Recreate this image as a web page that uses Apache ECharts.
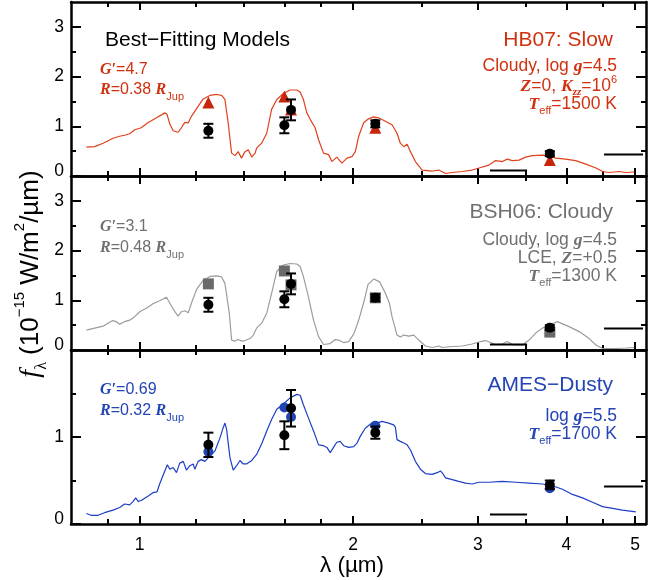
<!DOCTYPE html>
<html>
<head>
<meta charset="utf-8">
<title>Best-Fitting Models</title>
<script src="https://cdn.jsdelivr.net/npm/echarts@6/dist/echarts.min.js"></script>
<style>
  html, body { margin: 0; padding: 0; background: #fff; }
  #chart { width: 662px; height: 580px; }
</style>
</head>
<body>
<div id="chart"></div>
<script>
// ---- data (wavelength in micron, flux in 1e-15 W/m2/um) ----
const hbWave = [
  0.841,0.864,0.888,0.917,0.937,0.952,0.968,0.984,1.005,1.027,
  1.056,1.085,1.093,1.103,1.115,1.133,1.145,1.158,1.171,1.183,
  1.209,1.229,1.256,1.284,1.305,1.319,1.333,1.348,1.363,1.377,
  1.392,1.408,1.423,1.439,1.455,1.462,1.486,1.511,1.535,1.561,
  1.595,1.630,1.666,1.684,1.702,1.721,1.740,1.768,1.788,1.817,
  1.847,1.867,1.897,1.929,1.961,1.993,2.015,2.037,2.070,2.103,
  2.138,2.173,2.221,2.270,2.307,2.332,2.358,2.384,2.410,2.449,
  2.503,2.586,2.642,2.701,2.760,2.851,2.945,3.010,3.110,3.178,
  3.248,3.301,3.356,3.429,3.504,3.581,3.700,3.781,3.864,3.991,
  4.123,4.260,4.402,4.498,4.597,4.750,4.853,4.986
];
const hbFlux = [
  0.58,0.59,0.66,0.76,0.80,0.82,0.85,0.93,0.97,1.07,
  1.17,1.27,1.24,1.04,0.91,0.88,0.97,1.08,1.07,1.20,
  1.40,1.55,1.62,1.64,1.62,1.54,1.07,0.46,0.41,0.49,
  0.36,0.49,0.53,0.38,0.46,0.56,0.66,0.86,1.34,1.54,
  1.66,1.73,1.73,1.69,1.54,1.27,1.14,0.97,0.73,0.46,
  0.43,0.29,0.38,0.26,0.36,0.39,0.49,0.80,1.07,1.15,
  1.19,1.17,1.10,1.03,0.86,0.66,0.59,0.64,0.49,0.29,
  0.12,0.10,0.12,0.05,0.07,0.09,0.12,0.16,0.22,0.31,
  0.29,0.34,0.31,0.32,0.38,0.41,0.42,0.41,0.36,0.34,
  0.31,0.24,0.16,0.09,0.07,0.09,0.07,0.08
];

const bshWave = [
  0.841,0.864,0.888,0.902,0.915,0.927,0.937,0.952,0.968,0.984,
  1.000,1.022,1.044,1.067,1.091,1.103,1.121,1.133,1.145,1.158,
  1.171,1.183,1.203,1.229,1.256,1.284,1.305,1.319,1.338,1.348,
  1.363,1.377,1.392,1.408,1.431,1.447,1.462,1.486,1.511,1.535,
  1.561,1.595,1.630,1.666,1.684,1.702,1.730,1.759,1.788,1.817,
  1.857,1.887,1.908,1.940,1.971,2.004,2.037,2.070,2.100,2.140,
  2.180,2.220,2.250,2.270,2.307,2.332,2.358,2.397,2.436,2.476,
  2.530,2.586,2.642,2.671,2.760,2.851,2.945,3.027,3.076,3.126,
  3.178,3.248,3.301,3.356,3.467,3.543,3.620,3.700,3.781,3.843,
  3.885,3.927,4.035,4.169,4.307,4.402,4.498,4.697,4.853,4.986
];
const bshFlux = [
  0.40,0.44,0.48,0.54,0.59,0.57,0.52,0.57,0.60,0.67,
  0.77,0.84,0.93,0.99,1.06,0.94,0.77,0.68,0.77,0.79,
  0.75,0.94,1.22,1.40,1.48,1.49,1.47,1.34,0.74,0.20,
  0.18,0.21,0.18,0.19,0.23,0.30,0.44,0.54,0.74,1.14,
  1.58,1.71,1.74,1.73,1.68,1.48,1.07,0.60,0.27,0.11,
  0.13,0.21,0.20,0.15,0.17,0.32,0.60,0.95,1.32,1.43,
  1.37,1.15,0.95,0.67,0.30,0.26,0.30,0.28,0.30,0.20,
  0.08,0.05,0.08,0.05,0.07,0.08,0.12,0.17,0.19,0.15,
  0.11,0.12,0.17,0.11,0.10,0.20,0.34,0.44,0.50,0.54,
  0.57,0.54,0.47,0.37,0.23,0.10,0.03,0.03,0.04,0.05
];

const amesWave = [
  0.841,0.854,0.873,0.892,0.917,0.937,0.952,0.968,0.979,0.987,
  0.995,1.005,1.027,1.044,1.058,1.067,1.085,1.094,1.103,1.115,
  1.127,1.139,1.152,1.164,1.177,1.190,1.196,1.209,1.222,1.236,
  1.249,1.263,1.277,1.298,1.312,1.319,1.326,1.341,1.355,1.370,
  1.385,1.400,1.415,1.439,1.462,1.486,1.511,1.535,1.561,1.595,
  1.630,1.666,1.684,1.702,1.730,1.759,1.788,1.817,1.837,1.857,
  1.877,1.897,1.918,1.940,1.971,2.004,2.026,2.048,2.081,2.126,
  2.161,2.197,2.245,2.282,2.295,2.307,2.332,2.358,2.384,2.410,
  2.449,2.489,2.530,2.586,2.629,2.657,2.677,2.701,2.760,2.819,
  2.882,2.945,3.010,3.110,3.248,3.392,3.543,3.700,3.822,3.948,
  4.079,4.214,4.354,4.498,4.647,4.800,5.012
];
const amesFlux = [
  0.12,0.10,0.10,0.13,0.16,0.19,0.23,0.22,0.26,0.30,
  0.26,0.27,0.32,0.36,0.37,0.46,0.61,0.68,0.63,0.65,
  0.59,0.70,0.72,0.62,0.67,0.69,0.63,0.72,0.74,0.72,
  0.76,0.80,0.84,0.99,1.11,1.16,1.09,0.76,0.62,0.67,
  0.73,0.69,0.69,0.73,0.80,0.92,1.07,1.20,1.32,1.38,
  1.45,1.49,1.48,1.37,1.22,1.07,0.91,0.90,0.88,0.82,
  0.88,0.94,0.95,0.90,0.88,0.89,0.93,1.01,1.10,1.16,
  1.16,1.18,1.16,1.14,1.11,0.97,0.95,0.93,0.91,0.85,
  0.72,0.63,0.58,0.57,0.59,0.61,0.58,0.53,0.51,0.49,
  0.47,0.46,0.48,0.48,0.49,0.48,0.47,0.46,0.44,0.40,
  0.34,0.30,0.25,0.20,0.18,0.16,0.14
];

// observed photometry
const photWave = [1.25, 1.60, 1.635, 2.15, 3.79];
const photFlux = [0.91, 1.02, 1.33, 1.05, 0.45];
const photErr  = [0.14, 0.16, 0.21, 0.07, 0.05];
// synthetic photometry of each model
const hbPhot   = [1.48, 1.60, 1.34, 0.97, 0.32];
const bshPhot  = [1.33, 1.59, 1.31, 1.05, 0.36];
const amesPhot = [0.83, 1.34, 1.23, 1.13, 0.41];
// upper limits (band edges, flux)
const limStart = [3.12, 4.52];
const limEnd   = [3.52, 5.13];
const limFlux  = [0.11, 0.43];

// ticks
const xMajor = [1, 2, 3, 4, 5];
const xMinor = [0.9, 1.2, 1.4, 1.6, 1.8, 2.5, 3.5, 4.5];
const yMajorTop = [0, 1, 2, 3];
const yMinorTop = [0.5, 1.5, 2.5];
const yMajorBot = [0, 1];
const yMinorBot = [0.5, 1.5];

// ---- chart ----
const SANS = '"Liberation Sans", Arial, Helvetica, sans-serif';
const SERIF = '"Liberation Serif", "Times New Roman", serif';
const lg = Math.log10;
const xMin = lg(0.8), xMax = lg(5.18);

const panels = [
  { top: 2, yMax: 3.5, major: yMajorTop, minor: yMinorTop, wave: hbWave, flux: hbFlux,
    phot: hbPhot, line: '#e0401c', mark: '#c8260a', symbol: 'triangle', size: 12 },
  { top: 176, yMax: 3.5, major: yMajorTop, minor: yMinorTop, wave: bshWave, flux: bshFlux,
    phot: bshPhot, line: '#9c9c9c', mark: '#6a6a6a', symbol: 'rect', size: 11 },
  { top: 350, yMax: 2.0, major: yMajorBot, minor: yMinorBot, wave: amesWave, flux: amesFlux,
    phot: amesPhot, line: '#1d3fc4', mark: '#1e45b0', symbol: 'circle', size: 10 }
];

const black = '#000';
const frame = { onZero: false, lineStyle: { color: black, width: 2.5 } };
const noLine = { show: false, onZero: false };
const tickStyle = { color: black, width: 2 };

const xAxis = [], yAxis = [], grid = [], series = [];

panels.forEach((p, g) => {
  grid.push({ left: 71, right: 16, top: p.top, height: 174 });

  const xb = { gridIndex: g, type: 'value', min: xMin, max: xMax, splitLine: { show: false } };
  const lastPanel = g === panels.length - 1;
  ['bottom', 'top'].forEach(pos => {
    xAxis.push(Object.assign({}, xb, {
      position: pos, axisLine: frame,
      axisTick: { inside: true, length: 8, customValues: xMajor.map(lg), lineStyle: tickStyle },
      axisLabel: {
        show: pos === 'bottom' && lastPanel, customValues: xMajor.map(lg), margin: 12,
        color: black, fontSize: 17.5, fontFamily: SANS,
        formatter: v => String(Math.round(Math.pow(10, v)))
      }
    }));
    xAxis.push(Object.assign({}, xb, {
      position: pos, axisLine: noLine,
      axisTick: { inside: true, length: 5, customValues: xMinor.map(lg), lineStyle: tickStyle },
      axisLabel: { show: false }
    }));
  });

  const yb = { gridIndex: g, type: 'value', min: 0, max: p.yMax, splitLine: { show: false } };
  ['left', 'right'].forEach(pos => {
    yAxis.push(Object.assign({}, yb, {
      position: pos, axisLine: frame,
      axisTick: { inside: true, length: 10, customValues: p.major, lineStyle: tickStyle },
      axisLabel: {
        show: pos === 'left', customValues: p.major, margin: 7,
        color: black, fontSize: 17.5, fontFamily: SANS,
        formatter: v => (v === 0 ? '{z|0}' : String(v)),
        rich: { z: { fontSize: 17.5, fontFamily: SANS, color: black, padding: [0, 0, 10, 0] } }
      }
    }));
    yAxis.push(Object.assign({}, yb, {
      position: pos, axisLine: noLine,
      axisTick: { inside: true, length: 5, customValues: p.minor, lineStyle: tickStyle },
      axisLabel: { show: false }
    }));
  });

  const xi = g * 4, yi = g * 4;

  series.push({
    type: 'line', xAxisIndex: xi, yAxisIndex: yi, z: 2,
    data: p.wave.map((w, i) => [lg(w), p.flux[i]]),
    showSymbol: false, symbol: 'none', silent: true,
    lineStyle: { color: p.line, width: 1.2 }
  });

  series.push({
    type: 'custom', xAxisIndex: xi, yAxisIndex: yi, z: 3,
    data: limFlux.map((f, i) => [lg(limStart[i]), lg(limEnd[i]), f]),
    encode: { x: [0, 1], y: 2 },
    renderItem: (params, api) => {
      const a = api.coord([api.value(0), api.value(2)]);
      const b = api.coord([api.value(1), api.value(2)]);
      return { type: 'line', shape: { x1: a[0], y1: a[1], x2: b[0], y2: b[1] },
               style: { stroke: black, lineWidth: 2 } };
    }
  });

  series.push({
    type: 'scatter', xAxisIndex: xi, yAxisIndex: yi, z: 4,
    data: photWave.map((w, i) => [lg(w), p.phot[i]]),
    symbol: p.symbol, symbolSize: p.size,
    itemStyle: { color: p.mark, opacity: 1 }
  });

  series.push({
    type: 'custom', xAxisIndex: xi, yAxisIndex: yi, z: 5,
    data: photWave.map((w, i) => [lg(w), photFlux[i] - photErr[i], photFlux[i] + photErr[i]]),
    encode: { x: 0, y: [1, 2] },
    renderItem: (params, api) => {
      const lo = api.coord([api.value(0), api.value(1)]);
      const hi = api.coord([api.value(0), api.value(2)]);
      const st = { stroke: black, lineWidth: 2 };
      const cap = 5;
      return { type: 'group', children: [
        { type: 'line', shape: { x1: lo[0], y1: lo[1], x2: hi[0], y2: hi[1] }, style: st },
        { type: 'line', shape: { x1: lo[0] - cap, y1: lo[1], x2: lo[0] + cap, y2: lo[1] }, style: st },
        { type: 'line', shape: { x1: hi[0] - cap, y1: hi[1], x2: hi[0] + cap, y2: hi[1] }, style: st }
      ] };
    }
  });

  series.push({
    type: 'scatter', xAxisIndex: xi, yAxisIndex: yi, z: 6,
    data: photWave.map((w, i) => [lg(w), photFlux[i]]),
    symbol: 'circle', symbolSize: 10,
    itemStyle: { color: black, opacity: 1 }
  });
});

// ---- annotations ----
const RICH = {
  n:    { fontFamily: SANS, fontSize: 16, lineHeight: 24 },
  m:    { fontFamily: SANS, fontSize: 17.5, lineHeight: 24 },
  big:  { fontFamily: SANS, fontSize: 21, lineHeight: 26 },
  v:    { fontFamily: SERIF, fontSize: 16, fontWeight: 'bold', fontStyle: 'italic', lineHeight: 24 },
  vm:   { fontFamily: SERIF, fontSize: 17.5, fontWeight: 'bold', fontStyle: 'italic', lineHeight: 24 },
  sub:  { fontFamily: SANS, fontSize: 11, lineHeight: 11, verticalAlign: 'bottom' },
  vsub: { fontFamily: SERIF, fontSize: 11, fontWeight: 'bold', fontStyle: 'italic', lineHeight: 11, verticalAlign: 'bottom' },
  sup:  { fontFamily: SANS, fontSize: 11, lineHeight: 11, verticalAlign: 'top' }
};
const XT = {
  t:  { fontFamily: SANS, fontSize: 22.5, lineHeight: 30 }
};
const YT = {
  t:  { fontFamily: SANS, fontSize: 26, lineHeight: 38 },
  f:  { fontFamily: SERIF, fontSize: 28, fontStyle: 'italic', lineHeight: 38 },
  ls: { fontFamily: SERIF, fontSize: 16, lineHeight: 16, verticalAlign: 'bottom' },
  ts: { fontFamily: SANS, fontSize: 15, lineHeight: 15, verticalAlign: 'top' }
};

function txt(x, y, text, color, align, rich) {
  return { type: 'text', x: x, y: y, silent: true,
           style: { legacy: false, text: text, fill: color, align: align || 'left',
                    verticalAlign: 'middle', rich: rich || RICH, font: '16px ' + SANS } };
}

const RED = '#d0310f', GRAY = '#707070', BLUE = '#2344b4';

const graphic = [
  txt(105, 40, '{big|Best\u2212Fitting Models}', black),
  txt(613, 40, '{big|HB07: Slow}', RED, 'right'),
  txt(100, 70, '{v|G\u2032}{n|=4.7}', RED),
  txt(100, 90, '{v|R}{n|=0.38 }{v|R}{sub|Jup}', RED),
  txt(617, 66, '{m|Cloudy, log }{vm|g}{m|=4.5}', RED, 'right'),
  txt(617, 86, '{vm|Z}{m|=0, }{vm|K}{vsub|zz}{m|=10}{sup|6}', RED, 'right'),
  txt(617, 104, '{vm|T}{sub|eff}{m|=1500 K}', RED, 'right'),

  txt(613, 212, '{big|BSH06: Cloudy}', GRAY, 'right'),
  txt(100, 227, '{v|G\u2032}{n|=3.1}', GRAY),
  txt(100, 248, '{v|R}{n|=0.48 }{v|R}{sub|Jup}', GRAY),
  txt(617, 240, '{m|Cloudy, log }{vm|g}{m|=4.5}', GRAY, 'right'),
  txt(617, 258, '{m|LCE, }{vm|Z}{m|=+0.5}', GRAY, 'right'),
  txt(617, 276, '{vm|T}{sub|eff}{m|=1300 K}', GRAY, 'right'),

  txt(613, 385, '{big|AMES\u2212Dusty}', BLUE, 'right'),
  txt(100, 390, '{v|G\u2032}{n|=0.69}', BLUE),
  txt(100, 411, '{v|R}{n|=0.32 }{v|R}{sub|Jup}', BLUE),
  txt(617, 416, '{m|log }{vm|g}{m|=5.5}', BLUE, 'right'),
  txt(617, 434, '{vm|T}{sub|eff}{m|=1700 K}', BLUE, 'right'),

  txt(352, 566, '{t|\u03bb (\u00b5m)}', black, 'center', XT),
  Object.assign(txt(31, 274, '{f|f}{ls|\u03bb}{t| (10}{ts|\u221215}{t| W/m}{ts|2}{t|/\u00b5m)}', black, 'center', YT),
                { rotation: Math.PI / 2 })
];

const chart = echarts.init(document.getElementById('chart'), null, { renderer: 'canvas' });
chart.setOption({
  animation: false,
  backgroundColor: '#fff',
  grid: grid,
  xAxis: xAxis,
  yAxis: yAxis,
  series: series,
  graphic: graphic
});
</script>
</body>
</html>
